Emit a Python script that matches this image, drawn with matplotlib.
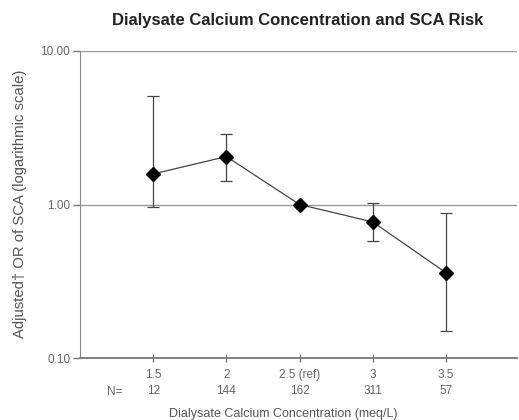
import matplotlib
matplotlib.use("Agg")
import matplotlib.pyplot as plt
import numpy as np

plt.rcParams['font.family'] = ['Liberation Sans', 'DejaVu Sans']

# Dialysate calcium groups, sample sizes and adjusted odds ratios with 95% CI
calcium = ["1.5", "2", "2.5 (ref)", "3", "3.5"]
counts = ["12", "144", "162", "311", "57"]
odds_ratio = [1.58, 2.05, 1.00, 0.77, 0.36]
ci_low = [0.96, 1.42, 1.00, 0.58, 0.15]
ci_high = [5.11, 2.87, 1.00, 1.03, 0.88]
y_ticks = [0.1, 1.0, 10.0]
y_tick_labels = ["0.10", "1.00", "10.00"]

W, H = 519, 420
fig = plt.figure(figsize=(W / 100, H / 100), dpi=100)
ax = fig.add_axes([80 / W, 1 - 358.3 / H, (517 - 80) / W, (358.3 - 50.7) / H])

x = np.arange(len(calcium))
or_arr = np.array(odds_ratio)
yerr = np.vstack([or_arr - np.array(ci_low), np.array(ci_high) - or_arr])

ax.set_yscale("log")
ax.set_ylim(0.1, 10)
ax.set_xlim(-1, 4.97)

# Horizontal reference lines at each decade
for v in y_ticks:
    ax.axhline(v, color="#9a9a9a", lw=1.0, zorder=1)

ax.errorbar(x, or_arr, yerr=yerr, fmt="none", ecolor="#444444", elinewidth=0.9,
            capsize=4, capthick=0.9, zorder=2)
ax.plot(x, or_arr, color="#444444", lw=0.9, zorder=3)
ax.plot(x, or_arr, linestyle="none", marker="D", markersize=7.5,
        color="black", zorder=4)

ax.set_yticks(y_ticks)
ax.set_yticklabels(y_tick_labels)
ax.yaxis.set_minor_locator(matplotlib.ticker.NullLocator())
ax.set_xticks(x)
ax.set_xticklabels([f"{c}\n{n}" for c, n in zip(calcium, counts)],
                   linespacing=1.45)

ax.tick_params(axis="y", direction="out", length=5, width=1, color="#777777",
               labelsize=8.5, labelcolor="#666666", pad=2)
ax.tick_params(axis="x", direction="inout", length=6, width=1, color="#777777",
               labelsize=8.5, labelcolor="#666666", pad=5)

for side in ("top", "right"):
    ax.spines[side].set_visible(False)
ax.spines["left"].set_color("#8a8a8a")
ax.spines["bottom"].set_color("#7a7a7a")
ax.spines["bottom"].set_linewidth(1.3)

fig.text(115 / W, 1 - 392 / H, "N=", fontsize=8.5, color="#666666",
         ha="center", va="center")

fig.text(298 / W, 1 - 20 / H, "Dialysate Calcium Concentration and SCA Risk",
         fontsize=12, fontweight="bold", color="#222222", ha="center", va="center")
fig.text(283 / W, 1 - 414 / H, "Dialysate Calcium Concentration (meq/L)",
         fontsize=9, color="#555555", ha="center", va="center")
fig.text(20 / W, 1 - 204 / H, "Adjusted\u2020 OR of SCA (logarithmic scale)",
         fontsize=10.7, color="#555555", ha="center", va="center", rotation=90)

fig.savefig("out.png", dpi=100)
